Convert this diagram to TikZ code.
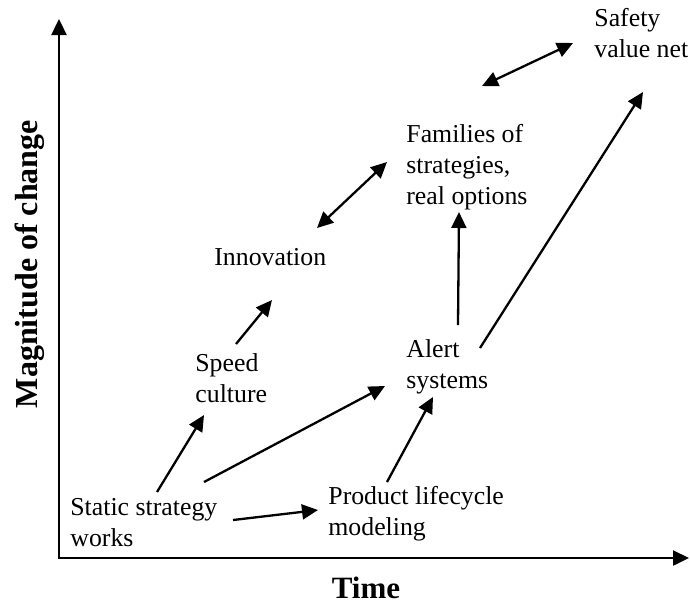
\documentclass[tikz,border=0pt]{standalone}
\usepackage{fontspec}
\setmainfont{Liberation Serif}
\usetikzlibrary{arrows.meta, positioning}

\begin{document}
\begin{tikzpicture}[
    x=0.5pt, y=-0.5pt,
    stage/.style={align=left,inner sep=0pt,anchor=base west,font=\fontsize{12.9}{15.3}\selectfont},
    axislabel/.style={inner sep=0pt,anchor=base,font=\fontsize{15.5}{18}\selectfont\bfseries},
    axis/.style={line width=1.2pt,-{Triangle[length=8pt,width=7.5pt]}},
    link/.style={line width=1.15pt,-{Triangle[length=8pt,width=7.5pt]}},
    both/.style={line width=1.15pt,{Triangle[length=8pt,width=7.5pt]}-{Triangle[length=8pt,width=7.5pt]}}
  ]
    \useasboundingbox (0,0) rectangle (690,602);

    % axes
    \coordinate (origin) at (59,558);
    \coordinate (ytip) at (59,19);
    \coordinate (xtip) at (689,558);
    \draw[axis] (origin) -- (ytip);
    \draw[axis] ([xshift=-0.6pt]origin) -- (xtip);
    \node[axislabel] (time) at (366,598) {Time};
    \node[axislabel, rotate=90, font=\fontsize{16}{18}\selectfont\bfseries] (magnitude) at (37,264) {Magnitude of change};

    % base = baseline of the last line
    \node[stage] (static) at (70,546) {Static strategy\\works};
    \node[stage] (speed) at (195,402) {Speed\\culture};
    \node[stage] (innovation) at (214,265) {Innovation};
    \node[stage] (families) at (406,204) {Families of\\strategies,\\real options};
    \node[stage] (alert) at (406,388) {Alert\\systems};
    \node[stage] (product) at (328,535) {Product lifecycle\\modeling};
    \node[stage] (safety) at (594,57) {Safety\\value net};

    \draw[link] ([shift={(87,-54)}]static.base west) -- ([shift={(9,13)}]speed.base west);
    \draw[link] ([shift={(41,-58)}]speed.base west) -- ([shift={(58,35)}]innovation.base west);
    \draw[link] ([shift={(134,-64)}]static.base west) -- ([shift={(-21,-2)}]alert.base west);
    \draw[link] ([shift={(163,-26)}]static.base west) -- ([shift={(-10,-25)}]product.base west);
    \draw[link] ([shift={(59,-53)}]product.base west) -- ([shift={(27,9)}]alert.base west);
    \draw[link] ([shift={(52,-63)}]alert.base west) -- ([shift={(53,8)}]families.base west);
    \draw[link] ([shift={(74,-40)}]alert.base west) -- ([shift={(49,35)}]safety.base west);
    \draw[both] ([shift={(103,-37)}]innovation.base west) -- ([shift={(-19,-42)}]families.base west);
    \draw[both] ([shift={(76,-118)}]families.base west) -- ([shift={(-21,-14)}]safety.base west);
  \end{tikzpicture}
\end{document}
